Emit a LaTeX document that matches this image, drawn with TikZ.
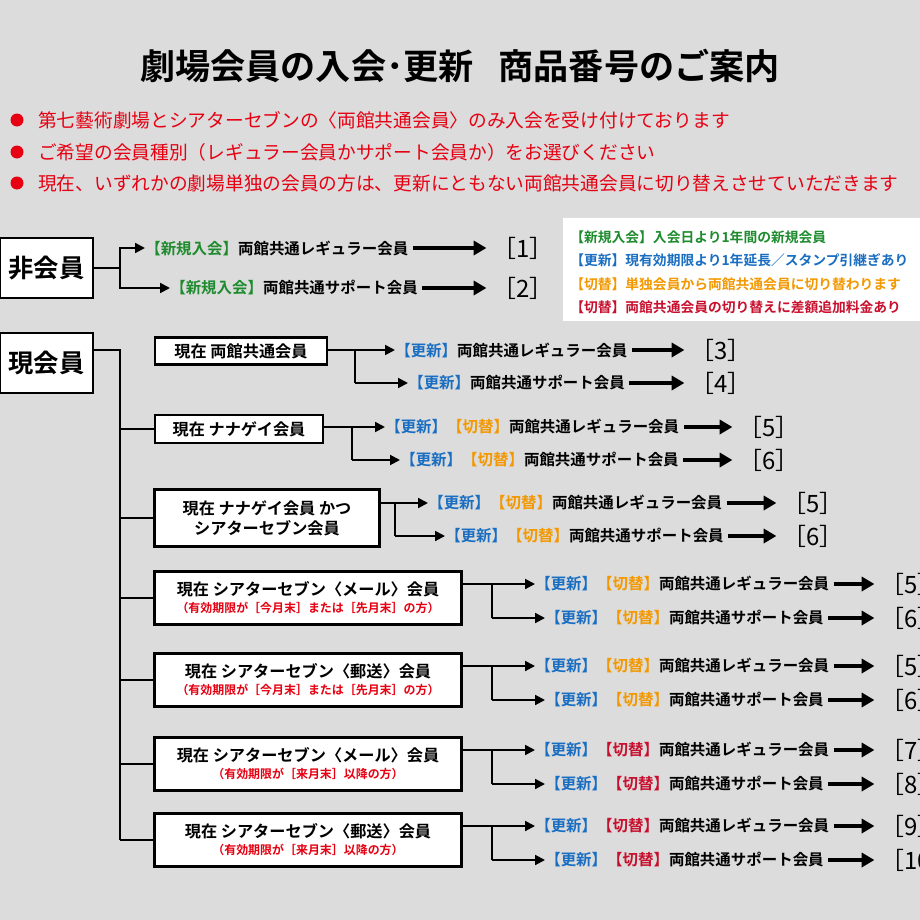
\documentclass[tikz,border=0pt]{standalone}
\usepackage{fontspec}
\setmainfont{Noto Sans CJK JP}[BoldFont={Noto Sans CJK JP Bold}]
\usetikzlibrary{arrows.meta, positioning}
\definecolor{bg}{HTML}{DCDCDC}
\definecolor{alert}{HTML}{E60012}
\definecolor{newc}{HTML}{1E8C2E}
\definecolor{updc}{HTML}{1A6EC2}
\definecolor{swc}{HTML}{F39800}
\definecolor{swr}{HTML}{C8102E}
\newcommand{\tagnew}{\textcolor{newc}{【新規入会】}}
\newcommand{\tagupd}{\textcolor{updc}{【更新】}}
\newcommand{\tagsw}{\textcolor{swc}{【切替】}}
\newcommand{\tagsr}{\textcolor{swr}{【切替】}}
\newcommand{\plreg}{両館共通レギュラー会員}
\newcommand{\plsup}{両館共通サポート会員}

\begin{document}
\begin{tikzpicture}[x=0.025cm, y=-0.025cm,
    frame/.style={draw, line width=2pt, fill=white, font=\bfseries\fontsize{11.5}{14}\selectfont, align=center, inner sep=2pt},
    head/.style={frame, font=\bfseries\fontsize{18}{20}\selectfont, minimum width=93*0.025cm, minimum height=60*0.025cm},
    trunk/.style={line width=1.6pt},
    arr/.style={line width=1.4pt, -{Triangle[length=7pt,width=7pt]}},
    bigarr/.style={line width=2.2pt, -{Triangle[length=9pt,width=10pt]}, shorten <=3pt, shorten >=4pt},
    plan/.style={anchor=west, inner sep=0pt, font=\bfseries\fontsize{11}{13}\selectfont},
    res/.style={anchor=west, inner sep=0pt, font=\fontsize{17}{19}\selectfont},
    note/.style={anchor=west, inner sep=0pt, text=alert, font=\fontsize{13.3}{15}\selectfont},
    leg/.style={anchor=west, inner sep=0pt, font=\bfseries\fontsize{9.8}{12}\selectfont}]
\useasboundingbox[fill=bg] (0,0) rectangle (920,920);

% title and notes
\node[font=\bfseries\fontsize{25}{28}\selectfont] (title) at (460,66) {劇場会員の入会･更新\hspace{0.7em}商品番号のご案内};
\foreach \yy/\txt in {120/第七藝術劇場とシアターセブンの〈両館共通会員〉のみ入会を受け付けております,
    152/ご希望の会員種別（レギュラー会員かサポート会員か）をお選びください,
    183/現在、いずれかの劇場単独の会員の方は、更新にともない両館共通会員に切り替えさせていただきます}{
  \fill[alert] (17,\yy) circle (6.5);
  \node[note] at (38,\yy) {\txt};
}

% legend
\fill[white] (563,218) rectangle (920,321);
\node[leg, text=newc] (lg1) at (570,237) {【新規入会】入会日より1年間の新規会員};
\node[leg, text=updc] (lg2) at (570,260) {【更新】現有効期限より1年延長／スタンプ引継ぎあり};
\node[leg, text=swc] (lg3) at (570,284) {【切替】単独会員から両館共通会員に切り替わります};
\node[leg, text=swr] (lg4) at (570,307) {【切替】両館共通会員の切り替えに差額追加料金あり};

% non members
\node[head] (nonm) at (46.5,268) {非会員};
\node[plan] (p1) at (145,248) {\tagnew\plreg};
\node[plan] (p2) at (170,288) {\tagnew\plsup};
\node[res] (r1) at (492,248) {［1］};
\node[res] (r2) at (492,288) {［2］};
\draw[trunk] (nonm.east) -- (120,268);
\draw[arr] (120,268) |- (p1.west);
\draw[arr] (120,268) |- (p2.west);
\draw[bigarr] (p1.east) -- (r1.west);
\draw[bigarr] (p2.east) -- (r2.west);

% members
\node[head] (mem) at (46.5,363) {現会員};
\draw[trunk] (mem.east |- 0,350) -- (120,350) -- (120,840);

% current joint member
\node[frame, minimum width=172*0.025cm, minimum height=27*0.025cm] (b1) at (241,351) {現在 両館共通会員};
\node[plan] (b1a) at (395,350) {\tagupd\plreg};
\node[plan] (b1b) at (408,383) {\tagupd\plsup};
\node[res] (r3) at (690,350) {［3］};
\node[res] (r4) at (690,383) {［4］};
\draw[trunk] (b1.east |- b1a.west) -- (355,350) -- (355,383);
\draw[arr] (355,350) -- (b1a.west);
\draw[arr] (355,383) -- (b1b.west);
\draw[bigarr] (b1a.east) -- (r3.west);
\draw[bigarr] (b1b.east) -- (r4.west);

% current nanagei member
\node[frame, minimum width=168*0.025cm, minimum height=28*0.025cm] (b2) at (239,429) {現在 ナナゲイ会員};
\node[plan] (b2a) at (385,427) {\tagupd\tagsw\plreg};
\node[plan] (b2b) at (400,460) {\tagupd\tagsw\plsup};
\node[res] (r5) at (738,427) {［5］};
\node[res] (r6) at (738,460) {［6］};
\draw[trunk] (120,429) -- (b2.west);
\draw[trunk] (b2.east |- b2a.west) -- (352,427) -- (352,460);
\draw[arr] (352,427) -- (b2a.west);
\draw[arr] (352,460) -- (b2b.west);
\draw[bigarr] (b2a.east) -- (r5.west);
\draw[bigarr] (b2b.east) -- (r6.west);

% both
\node[frame, minimum width=225*0.025cm, minimum height=57*0.025cm] (b3) at (267,518) {現在 ナナゲイ会員 かつ\\シアターセブン会員};
\node[plan] (b3a) at (428,503) {\tagupd\tagsw\plreg};
\node[plan] (b3b) at (445,536) {\tagupd\tagsw\plsup};
\node[res] (r5b) at (782,503) {［5］};
\node[res] (r6b) at (782,536) {［6］};
\draw[trunk] (120,518) -- (b3.west);
\draw[trunk] (b3.east |- b3a.west) -- (395,503) -- (395,536);
\draw[arr] (395,503) -- (b3a.west);
\draw[arr] (395,536) -- (b3b.west);
\draw[bigarr] (b3a.east) -- (r5b.west);
\draw[bigarr] (b3b.east) -- (r6b.west);

% theater seven members
\foreach \i/\yy/\kind/\when/\sw/\na/\nb in {
    4/598/メール/［今月末］または［先月末］の方/\tagsw/5/6,
    5/680/郵送/［今月末］または［先月末］の方/\tagsw/5/6,
    6/764/メール/［来月末］以降の方/\tagsr/7/8,
    7/840/郵送/［来月末］以降の方/\tagsr/9/10}{
  \node[frame, minimum width=307*0.025cm, minimum height=53*0.025cm] (b\i) at (308,\yy)
    {現在 シアターセブン〈\kind〉会員\\[-2pt]{\color{alert}\fontsize{8.5}{10}\selectfont（有効期限が\when）}};
  \node[plan] (b\i a) at (535,\yy-14) {\tagupd\sw\plreg};
  \node[plan] (b\i b) at (545,\yy+20) {\tagupd\sw\plsup};
  \node[res] (r\i a) at (880,\yy-14) {［\na］};
  \node[res] (r\i b) at (880,\yy+20) {［\nb］};
  \draw[trunk] (120,\yy) -- (b\i.west);
  \draw[trunk] (b\i.east |- b\i a.west) -- (492,\yy-14) -- (492,\yy+20);
  \draw[arr] (492,\yy-14) -- (b\i a.west);
  \draw[arr] (492,\yy+20) -- (b\i b.west);
  \draw[bigarr] (b\i a.east) -- (r\i a.west);
  \draw[bigarr] (b\i b.east) -- (r\i b.west);
}
\end{tikzpicture}
\end{document}
